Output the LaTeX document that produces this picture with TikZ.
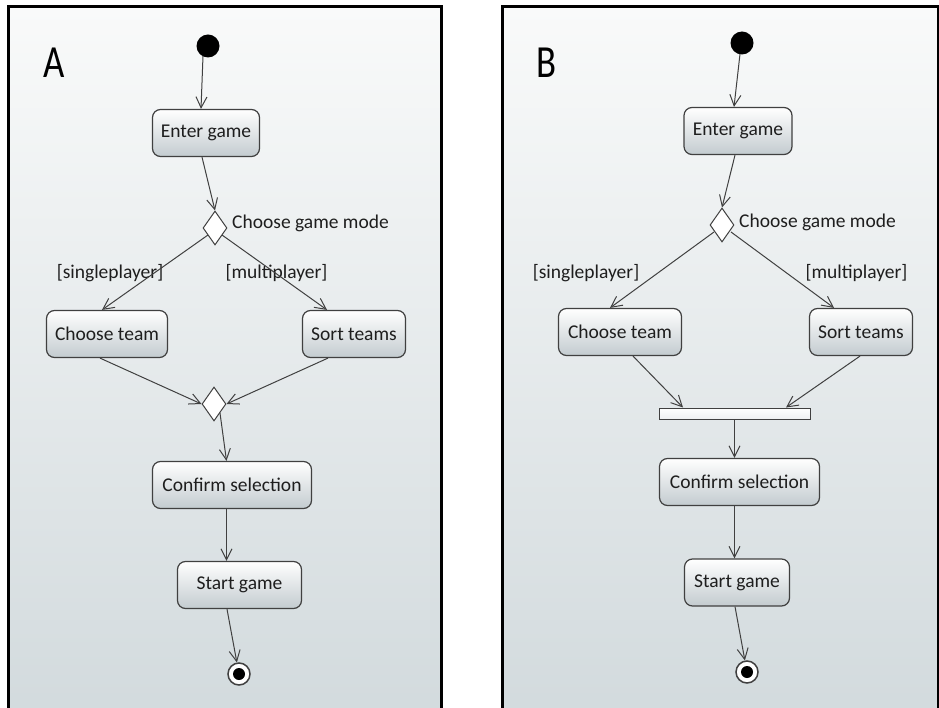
\documentclass[tikz,border=0pt]{standalone}
\usepackage{fontspec}
\setmainfont{Carlito}
\usetikzlibrary{arrows.meta,shapes.geometric,calc}
\definecolor{bgtop}{HTML}{F9FAFA}
\definecolor{bgbot}{HTML}{D2DADD}
\definecolor{boxmid}{HTML}{EEF0F1}
\definecolor{boxbot}{HTML}{C3CBCF}
\definecolor{ink}{HTML}{404040}
\definecolor{txt}{HTML}{1E1E1E}
\tikzset{
  act/.style={draw=ink, line width=1.2pt, rounded corners=8pt,
    top color=white, middle color=boxmid, bottom color=boxbot,
    minimum height=47pt, inner sep=0pt, text=txt,
    font=\fontsize{19.5}{22}\selectfont},
  dec/.style={diamond, draw=ink, fill=white, line width=1pt,
    minimum width=24pt, minimum height=34pt, inner sep=0pt},
  joinbar/.style={draw=ink, line width=1pt, top color=white, bottom color=boxmid,
    minimum width=151pt, minimum height=11pt, inner sep=0pt},
  flow/.style={draw=ink, line width=1pt, -{Straight Barb[length=11pt,width=11pt]}},
  initial/.style={circle, fill=black, minimum size=23pt, inner sep=0pt},
  final/.style={circle, draw=ink, fill=white, line width=1.5pt, minimum size=22pt,
    inner sep=0pt, path picture={\fill[black] (path picture bounding box.center) circle (6pt);}},
  lbl/.style={text=txt, inner sep=0pt, font=\fontsize{19.5}{22}\selectfont},
  panel/.style={text=black, inner sep=0pt, font=\fontsize{46}{50}\selectfont},
  frame/.style={line width=3pt, line join=miter},
}
\begin{document}
\begin{tikzpicture}[x=1pt,y=1pt]
\useasboundingbox (0,0) rectangle (939,-708);
\begin{scope}
\clip (0,0) rectangle (939,-708);
% panel backgrounds
\shade[top color=bgtop, bottom color=bgbot] (8,-7) rectangle (441,-720);
\shade[top color=bgtop, bottom color=bgbot] (502,-7) rectangle (938,-720);
\draw[frame] (8,-730) -- (8,-7) -- (441,-7) -- (441,-730);
\draw[frame] (502,-730) -- (502,-7) -- (938,-7) -- (938,-730);

% ---------------- panel A ----------------
\node[panel] (labA) at (54,-63) {\scalebox{0.8}[1]{A}};
\node[initial] (iA) at (208,-46) {};
\node[act, minimum width=107pt] (egA) at (206,-133) {Enter game};
\node[dec] (d1A) at (215,-228) {};
\node[lbl, anchor=west] (gmA) at (232,-223) {Choose game mode};
\node[act, minimum width=121pt] (ctA) at (107,-334) {Choose team};
\node[act, minimum width=103pt] (stA) at (354,-334) {Sort teams};
\node[lbl] (spA) at (110,-273) {[singleplayer]};
\node[lbl] (mpA) at (276.5,-273) {[multiplayer]};
\node[dec] (d2A) at (214,-404) {};
\node[act, minimum width=159pt] (csA) at (232,-485) {Confirm selection};
\node[act, minimum width=124pt] (sgA) at (239.5,-585) {Start game};
\node[final] (fA) at (239,-674) {};

\draw[flow] ($(iA)+(-5,-10)$) -- ($(egA.north)+(-5,0)$);
\draw[flow] ($(egA.south)+(-4,0)$) -- (d1A.north);
\draw[flow] ($(d1A)+(-7,-7)$) -- ($(ctA.north)+(-5,0)$);
\draw[flow] ($(d1A)+(7,-7)$) -- ($(stA.north)+(-27,0)$);
\draw[flow] ($(ctA.south)+(-7,0)$) -- (d2A.west);
\draw[flow] ($(stA.south)+(-26,0)$) -- (d2A.east);
\draw[flow] ($(d2A)+(6,-9)$) -- ($(csA.north)+(-5.5,0)$);
\draw[flow] ($(csA.south)+(-5.5,0)$) -- ($(sgA.north)+(-13,0)$);
\draw[flow] ($(sgA.south)+(-12.5,0)$) -- (fA);

% ---------------- panel B ----------------
\node[panel] (labB) at (547,-63) {\scalebox{0.8}[1]{B}};
\node[initial] (iB) at (742,-43) {};
\node[act, minimum width=108pt] (egB) at (738,-131) {Enter game};
\node[dec] (d1B) at (722,-225) {};
\node[lbl, anchor=west] (gmB) at (739,-222) {Choose game mode};
\node[act, minimum width=123pt] (ctB) at (620,-332) {Choose team};
\node[act, minimum width=103pt] (stB) at (861,-332) {Sort teams};
\node[lbl] (spB) at (586,-273) {[singleplayer]};
\node[lbl] (mpB) at (856.5,-273) {[multiplayer]};
\node[joinbar] (bar) at (734.5,-413.5) {};
\node[act, minimum width=160pt] (csB) at (739.5,-482) {Confirm selection};
\node[act, minimum width=105pt] (sgB) at (737,-582.5) {Start game};
\node[final] (fB) at (747,-672) {};

\draw[flow] ($(iB)+(-2,-11)$) -- ($(egB.north)+(-4,0)$);
\draw[flow] ($(egB.south)+(-3,0)$) -- (d1B.north);
\draw[flow] ($(d1B)+(-8,-7)$) -- ($(ctB.north)+(-10,0)$);
\draw[flow] ($(d1B)+(9,-7)$) -- ($(stB.north)+(-27,0)$);
\draw[flow] ($(ctB.south)+(13,0)$) -- ($(bar.north)+(-51.5,0)$);
\draw[flow] ($(stB.south)+(-1,0)$) -- ($(bar.north)+(51.5,0)$);
\draw[flow] (bar.south) -- ($(csB.north)+(-5,0)$);
\draw[flow] ($(csB.south)+(-5,0)$) -- ($(sgB.north)+(-2.5,0)$);
\draw[flow] ($(sgB.south)+(-2,0)$) -- (fB);
\end{scope}
\end{tikzpicture}
\end{document}
